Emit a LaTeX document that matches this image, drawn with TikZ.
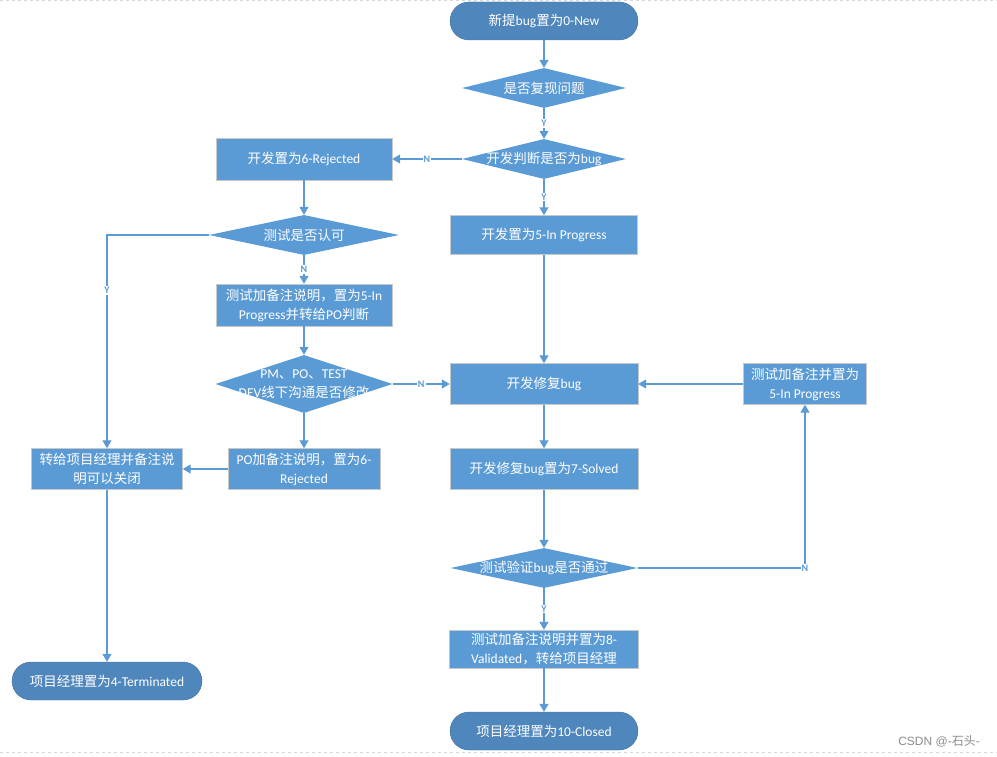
\documentclass[tikz,border=0pt]{standalone}
\usepackage{fontspec}
\setmainfont{Carlito}
\newfontfamily\cjk{Noto Sans CJK SC}
\newfontfamily\wmfont{Liberation Sans}
\usetikzlibrary{shapes.geometric,arrows.meta}
\definecolor{fcblue}{RGB}{91,155,213}
\definecolor{fcdark}{RGB}{79,135,189}
\definecolor{fcedge}{RGB}{65,113,156}
\definecolor{fcgray}{RGB}{200,200,200}

% switch to the CJK font for Chinese characters
\XeTeXinterchartokenstate=1
\count255="4E00
\loop
  \XeTeXcharclass\count255=1
  \ifnum\count255<"9FFF \advance\count255 by 1
\repeat
\XeTeXcharclass`，=3
\XeTeXcharclass`、=3
\def\latinf{\normalfont}
\XeTeXinterchartoks 0 1 = {\cjk}
\XeTeXinterchartoks 4095 1 = {\cjk}
\XeTeXinterchartoks 0 3 = {\cjk}
\XeTeXinterchartoks 4095 3 = {\cjk}
\XeTeXinterchartoks 1 0 = {\latinf}
\XeTeXinterchartoks 3 0 = {\latinf}

\begin{document}
\begin{tikzpicture}[x=1pt,y=-1pt,
  font=\fontsize{13.5}{19}\selectfont,
  box/.style={draw=fcgray, fill=fcblue, text=white, align=center, inner sep=0pt},
  term/.style={draw=fcedge, fill=fcdark, text=white, rounded corners=19pt, minimum height=38pt, inner sep=0pt},
  dia/.style={diamond, fill=fcblue, inner sep=0pt, minimum width=164pt, minimum height=40pt},
  dtext/.style={text=white, align=center},
  line/.style={draw=fcblue, line width=1.2pt, -{Triangle[length=8pt,width=9pt]}},
  yn/.style={fill=white, text=fcblue, font=\fontsize{10}{11}\selectfont\bfseries, inner sep=1pt}]
\useasboundingbox (0,0) rectangle (997,757);

% page edges
\draw[fcgray!70, dashed, line width=1pt] (0,1) -- (997,1);
\draw[fcgray!70, dashed, line width=1pt] (0,752) -- (997,752);

% middle column
\node[term, minimum width=188pt] (new) at (544,21) {新提bug置为0-New};
\node[dia, label={[dtext]center:是否复现问题}] (d1) at (544,88) {};
\node[dia, label={[dtext]center:开发判断是否为bug}] (d2) at (544,159) {};
\node[box, minimum width=187pt, minimum height=39pt] (prog) at (544,235) {开发置为5-In Progress};
\node[box, minimum width=188pt, minimum height=41pt] (fix) at (544,384) {开发修复bug};
\node[box, minimum width=188pt, minimum height=41pt] (solved) at (544,469) {开发修复bug置为7-Solved};
\node[dia, minimum width=187pt, label={[dtext]center:测试验证bug是否通过}] (d5) at (544,568) {};
\node[box, minimum width=189pt, minimum height=38pt] (val) at (544,649) {测试加备注说明并置为8-\\Validated，转给项目经理};
\node[term, minimum width=188pt] (closed) at (544,731) {项目经理置为10-Closed};

% left columns
\node[box, minimum width=176pt, minimum height=42pt] (rej) at (304,159) {开发置为6-Rejected};
\node[dia, minimum width=190pt, label={[dtext]center:测试是否认可}] (d3) at (304,235) {};
\node[box, minimum width=176pt, minimum height=42pt] (note) at (304,305) {测试加备注说明，置为5-In\\Progress并转给PO判断};
\node[dia, minimum width=177pt, minimum height=58pt, label={[dtext]center:{PM、PO、TEST\\DEV线下沟通是否修改}}] (d4) at (304,384) {};
\node[box, minimum width=152pt, minimum height=41pt] (po) at (304,469) {PO加备注说明，置为6-\\Rejected};
\node[box, minimum width=151pt, minimum height=41pt] (close) at (107,469) {转给项目经理并备注说\\明可以关闭};
\node[term, minimum width=190pt] (term4) at (107,681) {项目经理置为4-Terminated};

% right column
\node[box, minimum width=123pt, minimum height=41pt] (retest) at (805,384) {测试加备注并置为\\5-In Progress};

% watermark
\node[text=black!45, font=\fontsize{12}{14}\selectfont\def\latinf{\wmfont}\wmfont] (wm) at (939,741) {CSDN @-石头-};

% connectors
\draw[line] (new) -- (d1);
\draw[line] (d1) -- node[yn] {Y} (d2);
\draw[line] (d2) -- node[yn] {N} (rej);
\draw[line] (d2) -- node[yn] {Y} (prog);
\draw[line] (rej) -- (d3);
\draw[line] (d3.west) -| node[yn, pos=0.63] {Y} (close.north);
\draw[line] (d3) -- node[yn] {N} (note);
\draw[line] (note) -- (d4);
\draw[line] (d4) -- node[yn] {N} (fix);
\draw[line] (d4) -- (po);
\draw[line] (po) -- (close);
\draw[line] (close) -- (term4);
\draw[line] (prog) -- (fix);
\draw[line] (retest) -- (fix);
\draw[line] (fix) -- (solved);
\draw[line] (solved) -- (d5);
\draw[line] (d5.east) -| node[yn] {N} (retest.south);
\draw[line] (d5) -- node[yn] {Y} (val);
\draw[line] (val) -- (closed);
\end{tikzpicture}
\end{document}
